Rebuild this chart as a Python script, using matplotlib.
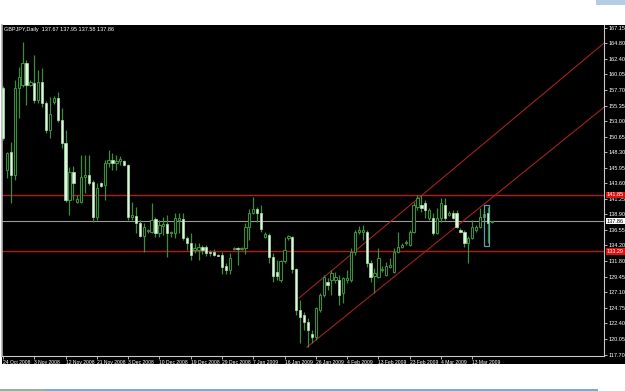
import matplotlib
matplotlib.use("Agg")
import matplotlib.pyplot as plt
from matplotlib.patches import Rectangle

plt.rcParams['font.family'] = ['Liberation Sans', 'DejaVu Sans']

# GBPJPY daily candles, 24 Oct 2008 .. 20 Mar 2009
opens = [158.0, 145.6, 148.3, 144.8, 158.0, 158.5, 161.8, 158.5, 158.8, 156.2,
         158.9, 155.7, 151.7, 155.9, 156.5, 153.2, 149.7, 141.1, 145.3, 140.8,
         140.8, 144.5, 144.8, 143.8, 138.5, 143.6, 143.3, 146.7, 147.1, 146.7,
         147.0, 147.0, 146.4, 138.5, 138.6, 137.6, 135.6, 136.4, 136.2, 138.2,
         136.1, 137.1, 137.4, 136.1, 136.1, 138.0, 138.2, 135.3, 134.6, 133.5,
         133.5, 134.0, 134.0, 133.2, 133.2, 132.75, 132.7, 131.1, 130.5, 133.7,
         133.8, 133.7, 133.8, 137.0, 139.1, 139.7, 139.1, 135.5, 135.8, 132.5,
         130.2, 129.0, 131.8, 135.3, 135.5, 130.6, 124.4, 123.7, 122.6, 120.8,
         120.3, 124.4, 126.7, 128.7, 129.0, 129.0, 129.0, 127.0, 129.0, 129.0,
         133.2, 136.2, 136.2, 136.2, 131.5, 129.6, 129.4, 130.5, 129.7, 130.9,
         130.2, 133.2, 134.0, 134.6, 134.3, 136.2, 140.0, 140.3, 140.6, 138.3,
         138.3, 136.1, 138.3, 140.3, 138.8, 139.1, 139.1, 136.5, 136.2, 134.6,
         135.3, 136.5, 137.0, 138.5, 139.1, 137.67]
highs = [158.3, 148.3, 149.8, 159.2, 161.2, 165.0, 162.2, 159.2, 163.0, 160.7,
         161.0, 156.0, 156.6, 156.8, 157.4, 155.0, 151.7, 146.1, 146.2, 141.8,
         147.9, 147.9, 147.9, 144.1, 143.6, 143.8, 147.1, 148.6, 148.2, 147.9,
         147.7, 147.1, 146.5, 140.8, 140.0, 138.0, 137.6, 136.7, 140.6, 138.5,
         138.0, 138.5, 138.8, 136.4, 139.1, 139.1, 139.1, 135.6, 136.1, 134.6,
         134.6, 134.3, 134.3, 133.5, 133.7, 132.9, 133.2, 131.5, 133.1, 134.0,
         134.0, 134.0, 137.6, 139.7, 141.5, 140.0, 140.3, 136.2, 136.1, 133.1,
         132.0, 132.0, 135.5, 135.8, 135.6, 130.8, 125.9, 124.1, 123.2, 121.4,
         124.9, 127.0, 129.7, 129.3, 130.5, 130.2, 129.7, 129.4, 130.5, 133.8,
         136.5, 137.1, 137.3, 136.5, 132.0, 130.8, 133.8, 131.1, 131.7, 132.3,
         133.8, 136.2, 134.6, 135.0, 136.5, 140.8, 141.8, 141.8, 141.1, 139.9,
         139.1, 139.9, 141.4, 141.4, 139.4, 139.6, 139.6, 136.8, 136.5, 135.6,
         138.0, 137.3, 139.9, 139.6, 140.0, 137.95]
lows = [150.1, 144.4, 140.6, 144.1, 153.5, 158.2, 155.4, 158.3, 155.7, 155.7,
        155.1, 151.2, 150.4, 155.6, 152.9, 148.9, 140.8, 138.8, 141.1, 140.6,
        140.6, 142.1, 143.3, 137.7, 138.0, 143.0, 141.1, 146.1, 145.6, 145.6,
        146.4, 146.2, 138.0, 138.0, 136.1, 135.5, 133.2, 136.1, 136.1, 135.5,
        135.5, 135.8, 132.5, 135.5, 135.3, 136.1, 135.0, 133.5, 132.0, 133.1,
        132.0, 132.9, 132.6, 132.6, 132.6, 132.6, 129.9, 129.9, 129.9, 133.5,
        131.2, 133.5, 132.9, 135.0, 138.9, 137.7, 136.2, 135.3, 131.5, 128.7,
        129.0, 128.7, 131.5, 135.0, 130.0, 123.7, 119.4, 121.4, 118.8, 119.4,
        119.9, 124.1, 126.4, 127.5, 126.7, 128.5, 125.2, 125.5, 128.5, 128.7,
        132.7, 135.9, 135.0, 130.9, 128.7, 127.0, 129.3, 130.2, 129.6, 130.8,
        130.0, 133.1, 133.8, 134.3, 134.1, 136.1, 139.6, 139.2, 138.3, 138.0,
        135.8, 135.9, 137.7, 138.0, 138.6, 138.2, 136.8, 136.1, 134.0, 131.5,
        135.2, 136.2, 136.8, 138.3, 134.6, 137.58]
closes = [150.4, 148.2, 144.8, 158.0, 159.7, 161.8, 158.5, 158.9, 156.2, 158.9,
          155.7, 151.7, 154.1, 156.5, 153.2, 149.7, 141.1, 145.3, 143.6, 141.2,
          144.5, 144.8, 143.6, 138.5, 142.9, 143.2, 146.7, 147.1, 146.7, 147.0,
          147.3, 146.4, 138.5, 138.8, 137.6, 135.6, 137.0, 136.5, 138.0, 136.1,
          137.3, 137.4, 136.1, 136.2, 138.3, 138.3, 135.3, 134.6, 132.7, 133.8,
          134.0, 133.5, 133.1, 133.1, 132.7, 132.65, 130.9, 130.5, 132.3, 133.8,
          133.7, 133.8, 137.0, 139.1, 139.7, 139.1, 136.7, 135.9, 132.5, 129.6,
          129.6, 131.8, 133.5, 135.6, 130.6, 124.4, 123.4, 122.6, 121.4, 120.3,
          124.7, 126.7, 129.4, 128.2, 130.0, 129.4, 126.7, 129.3, 129.3, 133.2,
          136.2, 136.5, 136.5, 131.5, 129.4, 130.0, 132.3, 130.6, 131.1, 131.2,
          133.2, 134.0, 134.3, 134.7, 136.2, 140.3, 141.4, 139.9, 139.6, 139.6,
          136.1, 138.3, 140.6, 138.3, 139.1, 138.3, 137.0, 136.2, 134.6, 135.3,
          137.0, 137.0, 138.5, 138.9, 137.6, 137.86]

date_ticks = [0, 8, 16, 24, 32, 40, 48, 56, 64, 72, 80, 88, 96, 104, 112, 120]
date_labels = ['24 Oct 2008', '3 Nov 2008', '12 Nov 2008', '21 Nov 2008', '3 Dec 2008',
               '10 Dec 2008', '19 Dec 2008', '29 Dec 2008', '7 Jan 2009', '16 Jan 2009',
               '26 Jan 2009', '4 Feb 2009', '13 Feb 2009', '23 Feb 2009', '4 Mar 2009',
               '13 Mar 2009']
price_ticks = [117.70, 120.05, 122.40, 124.75, 127.10, 129.45, 131.80, 134.20, 136.55,
               138.90, 141.25, 143.60, 145.95, 148.30, 150.65, 153.00, 155.35, 157.70,
               160.05, 162.40, 164.80, 167.15]

# horizontal levels and the rising channel (anchor bar, price)
resistance = 141.85
support = 133.29
bid = 137.86
channel_upper = [(75.7, 126.25), (153.7, 164.8)]
channel_lower = [(77.7, 118.8), (153.7, 155.1)]
box = [123.0, 124.3, 134.1, 140.3]

wick_col = '#3b8c3b'
bear_face = '#dcf8dc'

fig = plt.figure(figsize=(6.25, 3.91), dpi=100)
fig.patch.set_facecolor('white')
bg = fig.add_axes([0, 0, 1, 1], zorder=-5)
bg.set_xlim(0, 625)
bg.set_ylim(391, 0)
bg.axis('off')
bg.add_patch(Rectangle((2, 25), 623, 339, facecolor='black'))
bg.add_patch(Rectangle((0, 388.5), 598, 2, facecolor='#86a6cc'))
bg.add_patch(Rectangle((0, 388.5), 44, 2, facecolor='#9ab09a'))
bg.add_patch(Rectangle((596, 0), 29, 5, facecolor='#b4cce6'))

ax = fig.add_axes([2 / 625, 1 - 356 / 391, 602 / 625, 331 / 391], zorder=1)
ax.set_facecolor('black')

# candles
for i in range(len(opens)):
    o, h, l, c = opens[i], highs[i], lows[i], closes[i]
    ax.vlines(i, l, h, color=wick_col, lw=0.9, zorder=2)
    lo, hi = min(o, c), max(o, c)
    if hi - lo < 0.15:
        hi = lo + 0.15
    if c < o:
        ax.bar(i, hi - lo, bottom=lo, width=0.58, facecolor=bear_face,
               edgecolor='#b0dcb0', lw=0.5, zorder=3)
    else:
        ax.bar(i, hi - lo, bottom=lo, width=0.58, facecolor='black',
               edgecolor=wick_col, lw=0.8, zorder=3)

ax.axhline(resistance, color='#b41a1a', lw=1.0, zorder=1)
ax.axhline(support, color='#b41a1a', lw=1.0, zorder=1)
ax.axhline(bid, color='#9a9a9a', lw=0.8, zorder=1)
for line in (channel_upper, channel_lower):
    ax.plot([line[0][0], line[1][0]], [line[0][1], line[1][1]],
            color='#a32222', lw=0.8, zorder=1)
ax.add_patch(Rectangle((box[0], box[2]), box[1] - box[0], box[3] - box[2],
                       fill=False, edgecolor='#5f9ea0', lw=0.9, zorder=4))

ax.set_xlim(-0.256, 153.7)
ax.set_ylim(117.48, 167.53)

ax.yaxis.tick_right()
ax.set_yticks(price_ticks)
ax.set_yticklabels(['%.2f' % p for p in price_ticks])
ax.set_xticks(date_ticks)
ax.set_xticklabels(date_labels, ha='left')
ax.tick_params(axis='y', colors='#d0d0d0', labelcolor='white', labelsize=4.0,
               length=2, width=0.6, pad=1)
ax.tick_params(axis='x', colors='#d0d0d0', labelcolor='white', labelsize=3.6,
               length=2, width=0.6, pad=1)
ax.spines['top'].set_visible(False)
ax.spines['right'].set_color('#c8c8c8')
ax.spines['bottom'].set_color('#c8c8c8')
ax.spines['left'].set_color('#b0b0b0')
ax.spines['left'].set_linewidth(1.2)

# price markers on the right axis
yt = ax.get_yaxis_transform()
for val, face, txt in ((resistance, '#e01010', 'white'), (support, '#e01010', 'white'),
                       (bid, 'white', 'black')):
    ax.text(1.005, val, '%.2f' % val, transform=yt, ha='left', va='center',
            fontsize=4.0, color=txt, zorder=6, clip_on=False,
            bbox=dict(boxstyle='square,pad=0.12', facecolor=face, edgecolor='none'))

ax.text(0.004, 0.995, 'GBPJPY,Daily  %.2f %.2f %.2f %.2f' % (opens[-1], highs[-1], lows[-1], closes[-1]),
        transform=ax.transAxes, ha='left', va='top', fontsize=4.0, color='white')

fig.savefig('out.png', dpi=100)
